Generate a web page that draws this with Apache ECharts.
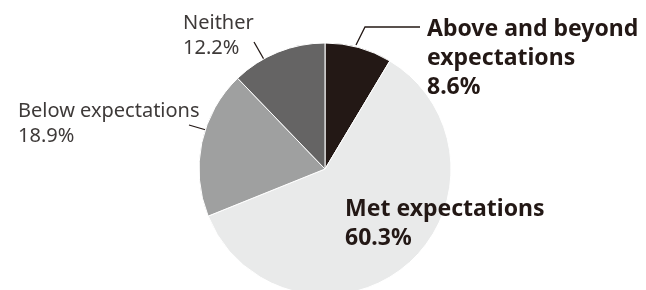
<!DOCTYPE html>
<html>
<head>
<meta charset="utf-8">
<script src="https://cdn.jsdelivr.net/npm/echarts@6/dist/echarts.min.js"></script>
<style>
  html, body { margin: 0; padding: 0; background: #fff; }
  #chart { width: 646px; height: 290px; }
</style>
</head>
<body>
<div id="chart"></div>
<script>
// data
const categories = ['Above and beyond expectations', 'Met expectations', 'Below expectations', 'Neither']
const shares = [8.6, 60.3, 18.9, 12.2]

// look
const sliceColors = ['#231815', '#e9eaea', '#9fa0a0', '#656464']
// top-left corner of every label block, in px
const labelSpots = [[427, 15], [345, 195], [18, 99], [183, 11]]
// leader lines (px), null = no line
const leaderLines = [
  [[356, 45], [365, 27], [420, 27]],
  null,
  [[189, 125], [213, 132]],
  [[254, 42], [266, 63]]
]

const chart = echarts.init(document.getElementById('chart'))

const boldLabel = {
  fontFamily: 'Noto Sans',
  fontWeight: 'bold',
  fontSize: 23,
  lineHeight: 29,
  color: '#231815'
}
const thinLabel = {
  fontFamily: 'Noto Sans',
  fontWeight: 'normal',
  fontSize: 20,
  lineHeight: 25,
  color: '#3e3a39'
}

const pieData = categories.map((name, i) => {
  const bold = i < 2
  return {
    name: name,
    value: shares[i],
    itemStyle: { color: sliceColors[i] },
    label: Object.assign({}, bold ? boldLabel : thinLabel,
      i === 0 ? { width: 225, overflow: 'break' } : { width: 300, overflow: 'none' }),
    labelLine: { show: leaderLines[i] !== null }
  }
})

chart.setOption({
  animation: false,
  series: [
    {
      type: 'pie',
      center: [325, 169],
      radius: 126,
      startAngle: 90,
      clockwise: true,
      itemStyle: { borderColor: '#fff', borderWidth: 1 },
      label: {
        show: true,
        position: 'outside',
        formatter: (p) => p.name + '\n' + p.value.toFixed(1) + '%'
      },
      labelLine: {
        lineStyle: { color: '#231815', width: 1.3 }
      },
      labelLayout: (p) => {
        const s = labelSpots[p.dataIndex]
        const out = { x: s[0], y: s[1], align: 'left', verticalAlign: 'top' }
        if (leaderLines[p.dataIndex]) out.labelLinePoints = leaderLines[p.dataIndex]
        return out
      },
      data: pieData
    }
  ]
})
</script>
</body>
</html>
